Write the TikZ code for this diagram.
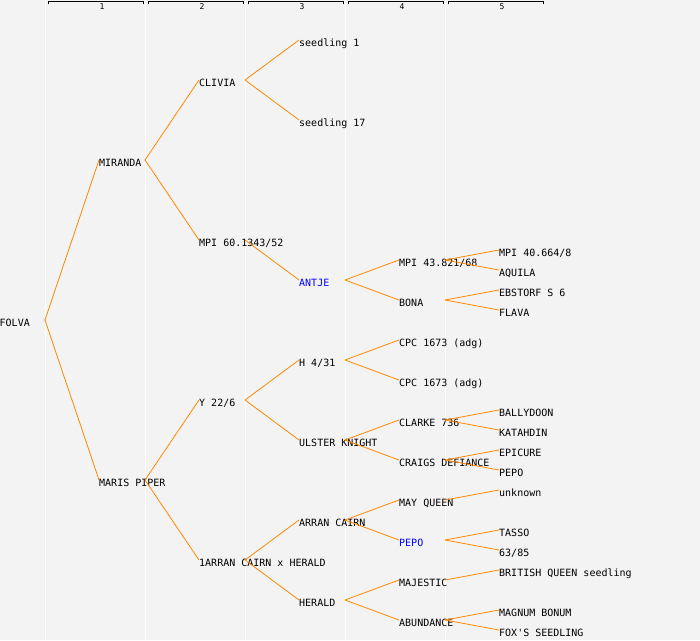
\documentclass[tikz,border=0pt]{standalone}
\usepackage{fontspec}
\newfontfamily\monof{DejaVu Sans Mono}
\definecolor{bgrey}{RGB}{243,243,243}
\definecolor{branch}{RGB}{255,136,0}
\definecolor{namblue}{RGB}{0,0,255}
\tikzset{
	lbl/.style={anchor=west, inner sep=0pt, text height=12pt, text depth=0pt, font=\monof\fontsize{10}{10}\selectfont},
	hilite/.style={lbl, text=namblue},
	link/.style={draw=branch, line width=0.8pt},
	sep/.style={draw=white, line width=1pt},
}
\begin{document}
\begin{tikzpicture}[x=1pt,y=-1pt]
	\useasboundingbox[fill=bgrey] (0,0) rectangle (700,640);

	% generation columns
	\foreach \k [count=\i from 0] in {45,145,245,345,445} {
	     \coordinate (c\i) at (\k,0);
	     \draw[sep] (c\i) -- ++(0,640);
	}
	\foreach \k in {1,...,5} {
	     \draw[line width=0.8pt] (100*\k-52,4) -- (100*\k-52,1.5) -- (100*\k+43,1.5) -- (100*\k+43,4);
	     \node[inner sep=0pt, font=\monof\fontsize{8}{8}\selectfont] (g\k) at (100*\k+2,6.5) {\k};
	}

	\node[lbl] (folva) at (-0.5,320) {FOLVA};

	\node[lbl] (miranda) at (99,160) {MIRANDA};
	\node[lbl] (maris) at (99,480) {MARIS PIPER};

	\node[lbl] (clivia) at (199,80) {CLIVIA};
	\node[lbl] (mpisixty) at (199,240) {MPI 60.1343/52};
	\node[lbl] (ytwo) at (199,400) {Y 22/6};
	\node[lbl] (acxh) at (199,560) {1ARRAN CAIRN x HERALD};

	\node[lbl] (sone) at (299,40) {seedling 1};
	\node[lbl] (sseventeen) at (299,120) {seedling 17};
	\node[hilite] (antje) at (299,280) {ANTJE};
	\node[lbl] (hfour) at (299,360) {H 4/31};
	\node[lbl] (ulster) at (299,440) {ULSTER KNIGHT};
	\node[lbl] (arran) at (299,520) {ARRAN CAIRN};
	\node[lbl] (herald) at (299,600) {HERALD};

	\node[lbl] (mpiforty3) at (399,260) {MPI 43.821/68};
	\node[lbl] (bona) at (399,300) {BONA};
	\node[lbl] (cpca) at (399,340) {CPC 1673 (adg)};
	\node[lbl] (cpcb) at (399,380) {CPC 1673 (adg)};
	\node[lbl] (clarke) at (399,420) {CLARKE 736};
	\node[lbl] (craigs) at (399,460) {CRAIGS DEFIANCE};
	\node[lbl] (mayq) at (399,500) {MAY QUEEN};
	\node[hilite] (pepo) at (399,540) {PEPO};
	\node[lbl] (majestic) at (399,580) {MAJESTIC};
	\node[lbl] (abund) at (399,620) {ABUNDANCE};

	\node[lbl] (mpiforty) at (499,250) {MPI 40.664/8};
	\node[lbl] (aquila) at (499,270) {AQUILA};
	\node[lbl] (ebstorf) at (499,290) {EBSTORF S 6};
	\node[lbl] (flava) at (499,310) {FLAVA};
	\node[lbl] (bally) at (499,410) {BALLYDOON};
	\node[lbl] (katah) at (499,430) {KATAHDIN};
	\node[lbl] (epicure) at (499,450) {EPICURE};
	\node[lbl] (pepob) at (499,470) {PEPO};
	\node[lbl] (unknown) at (499,490) {unknown};
	\node[lbl] (tasso) at (499,530) {TASSO};
	\node[lbl] (sixtythree) at (499,550) {63/85};
	\node[lbl] (british) at (499,570) {BRITISH QUEEN seedling};
	\node[lbl] (magnum) at (499,610) {MAGNUM BONUM};
	\node[lbl] (fox) at (499,630) {FOX'S SEEDLING};

	% parent -- child
	\foreach \p/\c/\k in {folva/miranda/0, folva/maris/0,
	     miranda/clivia/1, miranda/mpisixty/1, maris/ytwo/1, maris/acxh/1,
	     clivia/sone/2, clivia/sseventeen/2, mpisixty/antje/2, ytwo/hfour/2, ytwo/ulster/2, acxh/arran/2, acxh/herald/2,
	     antje/mpiforty3/3, antje/bona/3, hfour/cpca/3, hfour/cpcb/3, ulster/clarke/3, ulster/craigs/3,
	     arran/mayq/3, arran/pepo/3, herald/majestic/3, herald/abund/3,
	     mpiforty3/mpiforty/4, mpiforty3/aquila/4, bona/ebstorf/4, bona/flava/4, clarke/bally/4, clarke/katah/4,
	     craigs/epicure/4, craigs/pepob/4, mayq/unknown/4, pepo/tasso/4, pepo/sixtythree/4,
	     majestic/british/4, abund/magnum/4, abund/fox/4} {
	     \draw[link] (c\k |- \p.west) -- (\c.west);
	}
\end{tikzpicture}
\end{document}
